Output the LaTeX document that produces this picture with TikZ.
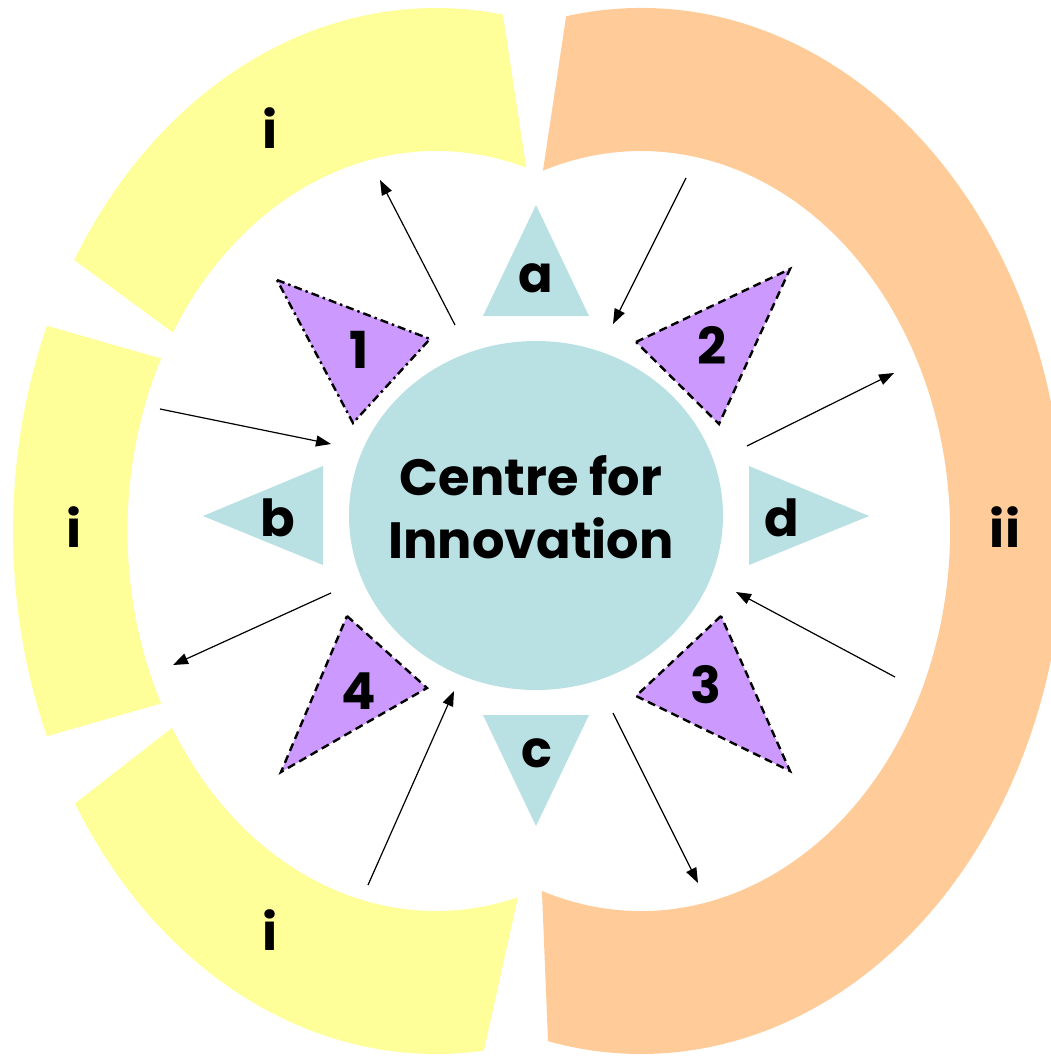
\documentclass[tikz,border=0pt]{standalone}
\usepackage{fontspec}
\setmainfont{Poppins}
\usetikzlibrary{arrows.meta,shapes.geometric}
\definecolor{ylw}{HTML}{FFFF99}
\definecolor{org}{HTML}{FFCC99}
\definecolor{cfiblue}{HTML}{B9E0E3}
\definecolor{purp}{HTML}{CC99FF}
\begin{document}
\begin{tikzpicture}[x=1pt,y=-1pt,
  lbl/.style={font=\fontsize{51}{63}\selectfont\bfseries, inner sep=0pt},
  bluetri/.style={fill=cfiblue},
  purptri/.style={fill=purp, draw=black, line width=2.4pt, dash pattern=on 8pt off 5pt},
  purpdd/.style={fill=purp, draw=black, line width=2.4pt, dash pattern=on 8pt off 4pt on 2.5pt off 4pt},
  arr/.style={-{Triangle[length=15pt,width=11pt]}, line width=1.2pt}]
\useasboundingbox (0,0) rectangle (1051,1057);
\begin{scope}
\clip (0,0) rectangle (1051,1057);
% yellow ring segments
\fill[ylw] ([shift={(436,531)}]-80.9:423 and 523) arc[start angle=-80.9,end angle=-148.8,x radius=423,y radius=523]
  -- ([shift={(436,531)}]-148.5:308.5 and 380) arc[start angle=-148.5,end angle=-73,x radius=308.5,y radius=380] -- cycle;
\fill[ylw] ([shift={(436,531)}]-156.9:423 and 523) arc[start angle=-156.9,end angle=-203.1,x radius=423,y radius=523]
  -- ([shift={(436,531)}]-207:308.5 and 380) arc[start angle=-207,end angle=-153,x radius=308.5,y radius=380] -- cycle;
\fill[ylw] ([shift={(436,531)}]-211.4:423 and 523) arc[start angle=-211.4,end angle=-276.5,x radius=423,y radius=523]
  -- ([shift={(436,531)}]-285.4:308.5 and 380) arc[start angle=-285.4,end angle=-211.2,x radius=308.5,y radius=380] -- cycle;
% orange ring segment
\fill[org] ([shift={(641,531)}]-100.2:423 and 523) arc[start angle=-100.2,end angle=102.7,x radius=423,y radius=523]
  -- ([shift={(641,531)}]108.7:309 and 380) arc[start angle=108.7,end angle=-108.5,x radius=309,y radius=380] -- cycle;
\end{scope}
% ring labels
\node[lbl, anchor=base] (ri1) at (270,148) {i};
\node[lbl, anchor=base] (ri2) at (74,547) {i};
\node[lbl, anchor=base] (ri3) at (270,950) {i};
\node[lbl, anchor=base] (rii) at (1005,547) {ii};
% centre
\node[ellipse, fill=cfiblue, minimum width=374pt, minimum height=349pt, inner sep=0pt] (cfi) at (536,515.5) {};
\node[lbl, align=center] (cfitext) at (531,507) {Centre for\\Innovation};
% blue triangles
\fill[bluetri] (536,205) -- (589,316) -- (483,316) -- cycle;
\fill[bluetri] (203,516) -- (323,466) -- (323,565) -- cycle;
\fill[bluetri] (536,826) -- (589,715) -- (483,715) -- cycle;
\fill[bluetri] (869,516) -- (749,466) -- (749,565) -- cycle;
\node[lbl, anchor=base] (la) at (536,292) {a};
\node[lbl, anchor=base] (lb) at (278,536) {b};
\node[lbl, anchor=base] (lc) at (537,767) {c};
\node[lbl, anchor=base] (ld) at (782,536) {d};
% purple triangles
\filldraw[purpdd] (277,280) -- (430,339) -- (353,423) -- cycle;
\filldraw[purptri] (636,342) -- (790,269) -- (719,424) -- cycle;
\filldraw[purptri] (721,616) -- (636,696) -- (790,771) -- cycle;
\filldraw[purptri] (347,616) -- (427,688) -- (281,772) -- cycle;
\node[lbl, anchor=base] (l1) at (359,368) {1};
\node[lbl, anchor=base] (l2) at (712,364) {2};
\node[lbl, anchor=base] (l3) at (706,703) {3};
\node[lbl, anchor=base] (l4) at (359,709) {4};
% arrows
\coordinate (a1s) at (455,325); \coordinate (a1e) at (380,180);
\coordinate (a2s) at (686,178); \coordinate (a2e) at (613,324);
\coordinate (a3s) at (747,446); \coordinate (a3e) at (894,373);
\coordinate (a4s) at (895,677); \coordinate (a4e) at (736,592);
\coordinate (a5s) at (613,713); \coordinate (a5e) at (698,883);
\coordinate (a6s) at (368,885); \coordinate (a6e) at (454,691);
\coordinate (a7s) at (331,593); \coordinate (a7e) at (173,665);
\coordinate (a8s) at (160,409); \coordinate (a8e) at (331,444);
\foreach \k in {1,...,8} \draw[arr] (a\k s) -- (a\k e);
\end{tikzpicture}
\end{document}
